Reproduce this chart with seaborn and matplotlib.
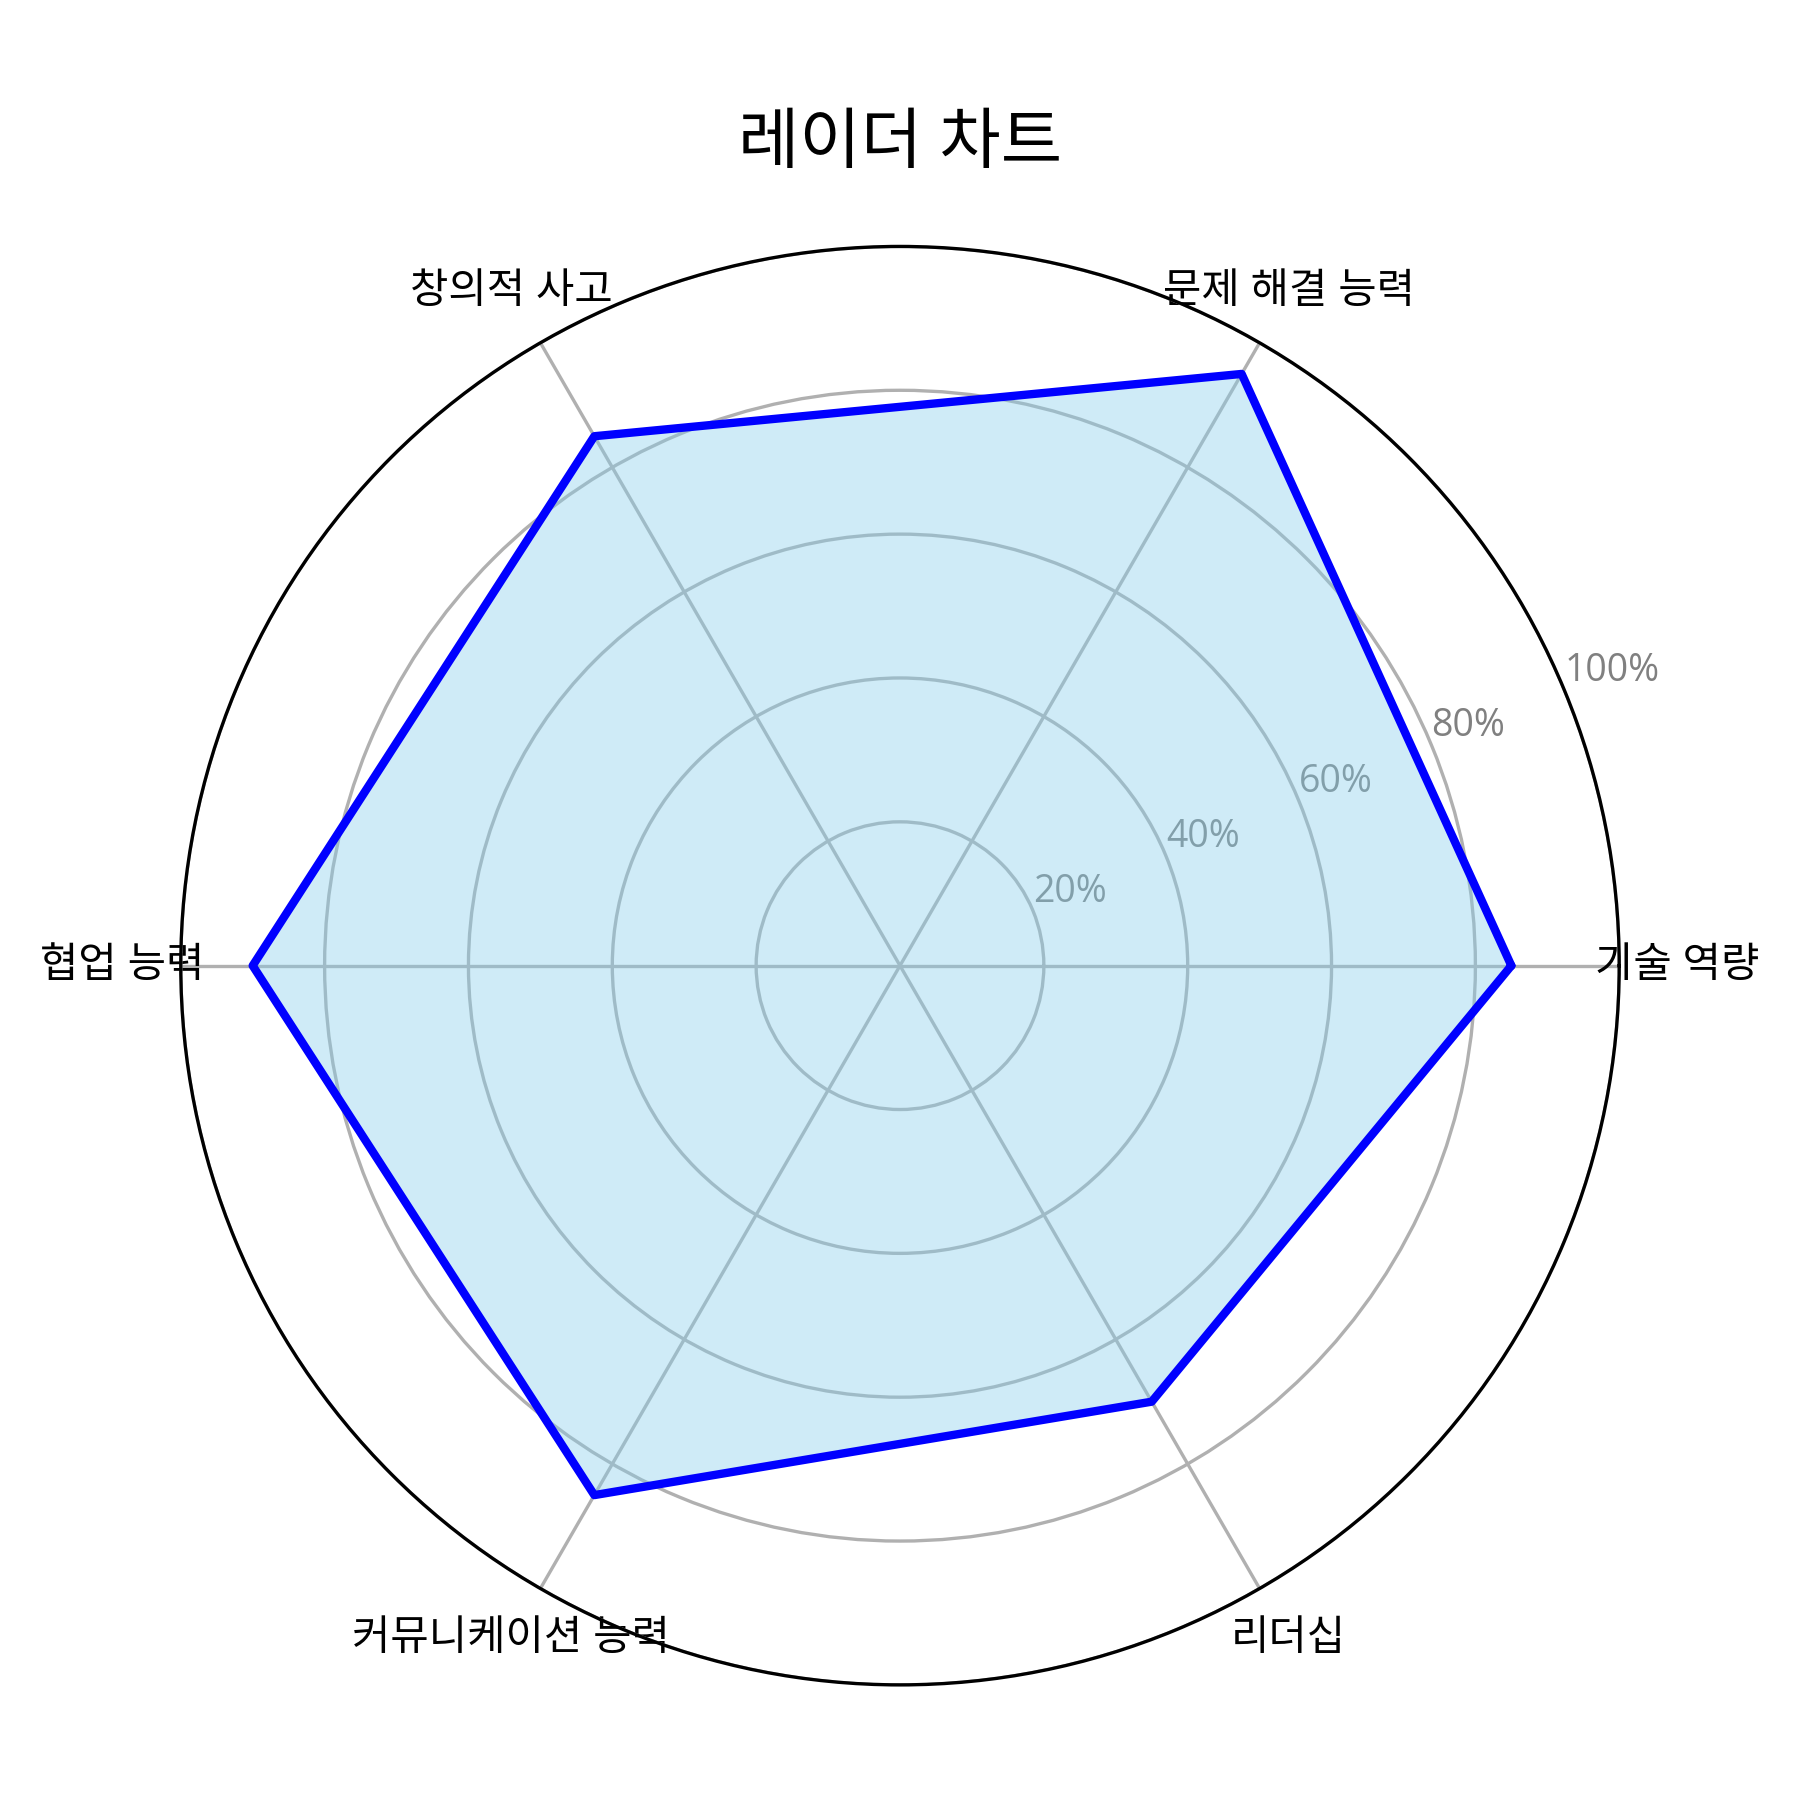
import numpy as np
import matplotlib
matplotlib.use("Agg")
import matplotlib.pyplot as plt
import seaborn as sns

# 데이터
categories = ['기술 역량', '문제 해결 능력', '창의적 사고', '협업 능력', '커뮤니케이션 능력', '리더십']
scores = [85, 95, 85, 90, 85, 70]
r_ticks = [20, 40, 60, 80, 100]
r_tick_labels = ['20%', '40%', '60%', '80%', '100%']

sns.set_style("white", {'text.color': 'black', 'xtick.color': 'black',
                        'ytick.color': 'black', 'axes.labelcolor': 'black'})
plt.rcParams['font.family'] = ['Open Sans', 'Noto Sans CJK KR', 'DejaVu Sans']
plt.rcParams['axes.unicode_minus'] = False

n = len(categories)
angles = np.linspace(0, 2 * np.pi, n, endpoint=False).tolist()
# 다각형을 닫기 위해 첫 값을 2π 위치에 한 번 더
vals = scores + scores[:1]
angles_closed = angles + [2 * np.pi]

fig, ax = plt.subplots(figsize=(6, 6), subplot_kw=dict(polar=True))

ax.fill(angles_closed, vals, color='skyblue', alpha=0.4)
sns.lineplot(x=angles_closed, y=vals, sort=False, estimator=None,
             color='blue', linewidth=2, ax=ax)

ax.set_xticks(angles)
ax.set_xticklabels(categories, fontsize=10, color='black')
ax.set_ylim(0, 100)
ax.set_yticks(r_ticks)
ax.set_yticklabels(r_tick_labels, color='grey', fontsize=9)
ax.grid(True, color='#b0b0b0', linewidth=0.8)
ax.spines['polar'].set_color('black')
ax.spines['polar'].set_linewidth(0.8)
ax.set_xlabel('')
ax.set_ylabel('')

ax.set_title('레이더 차트', fontsize=16, pad=20, color='black')

plt.tight_layout()
plt.savefig('out.png', dpi=300)
